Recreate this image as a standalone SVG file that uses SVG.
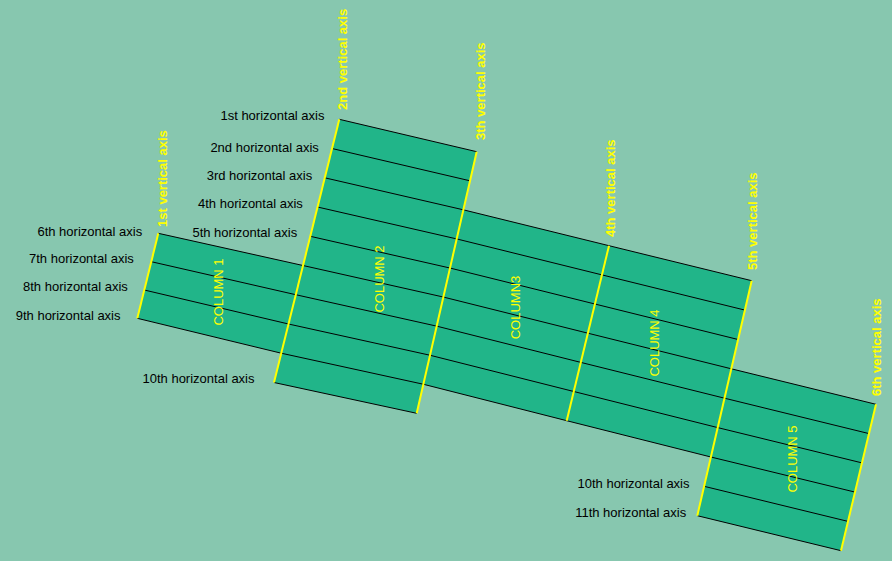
<svg xmlns="http://www.w3.org/2000/svg" width="892" height="561" viewBox="0 0 892 561">
  <style>
    .bg { fill: #87C7AF; }
    .col { fill: #21B589; stroke: none; }
    .hax { fill: none; stroke: #000000; stroke-width: 1; stroke-linejoin: round; }
    .vax { stroke: #FFFF00; stroke-width: 2; stroke-linecap: butt; }
    .hlab { font-family: "Liberation Sans", Arial, sans-serif; font-size: 13px; fill: #000000; text-anchor: end; }
    .vlab { font-family: "Liberation Sans", Arial, sans-serif; font-size: 13px; font-weight: bold; fill: #FFFF00; }
    .clab { font-family: "Liberation Sans", Arial, sans-serif; font-size: 13px; fill: #FFFF00; text-anchor: middle; }
  </style>
  <rect class="bg" x="0" y="0" width="892" height="561"/>

  <g id="column-1">
    <polygon class="col" points="158.3,233.3 303,265.5 281.2,353.2 137.3,318.3"/>
  </g>
  <g id="column-2">
    <polygon class="col" points="339.3,119.3 476.7,151.7 416.7,413.3 274,382.5"/>
  </g>
  <g id="column-3">
    <polygon class="col" points="463.3,209.8 609,245.7 566.7,420.7 423.1,384.2"/>
  </g>
  <g id="column-4">
    <polygon class="col" points="609,245.7 751.7,280.7 710.9,457 566.7,420.7"/>
  </g>
  <g id="column-5">
    <polygon class="col" points="731.3,368.8 876,404.3 841,550.7 697.3,515.7"/>
  </g>

  <g id="horizontal-axes">
    <polyline class="hax" points="339.3,119.3 476.7,151.7"/>
    <polyline class="hax" points="332,148.5 470,180.8"/>
    <polyline class="hax" points="324.8,177.8 463.3,209.8 609,245.7 751.7,280.7"/>
    <polyline class="hax" points="317.5,207 456.6,238.9 602,274.9 744.9,310.1"/>
    <polyline class="hax" points="310.3,236.3 449.9,268 594.9,304 738.1,339.5"/>
    <polyline class="hax" points="158.3,233.3 303,265.5 443.2,297 587.9,333.2 731.3,368.8 876,404.3"/>
    <polyline class="hax" points="151.3,261.7 295.7,294.7 436.5,326.1 580.8,362.4 724.5,398.2 869,433.6"/>
    <polyline class="hax" points="144.3,290 288.5,324 429.8,355.2 573.8,391.5 717.7,427.6 862,462.9"/>
    <polyline class="hax" points="137.3,318.3 281.2,353.2 423.1,384.2 566.7,420.7 710.9,457 855,492.1"/>
    <polyline class="hax" points="274,382.5 416.7,413.3"/>
    <polyline class="hax" points="704.1,486.3 848,521.4"/>
    <polyline class="hax" points="697.3,515.7 841,550.7"/>
  </g>

  <g id="vertical-axes">
    <line class="vax" x1="158.3" y1="233.3" x2="137.3" y2="318.3"/>
    <line class="vax" x1="339.3" y1="119.3" x2="274" y2="382.5"/>
    <line class="vax" x1="476.7" y1="151.7" x2="416.7" y2="413.3"/>
    <line class="vax" x1="609" y1="245.7" x2="566.7" y2="420.7"/>
    <line class="vax" x1="751.7" y1="280.7" x2="697.3" y2="515.7"/>
    <line class="vax" x1="876" y1="404.3" x2="841" y2="550.7"/>
  </g>

  <g id="horizontal-axis-labels">
    <text class="hlab" x="324.5" y="120">1st horizontal axis</text>
    <text class="hlab" x="318.8" y="151.7">2nd horizontal axis</text>
    <text class="hlab" x="312.2" y="180">3rd horizontal axis</text>
    <text class="hlab" x="302.8" y="207.7">4th horizontal axis</text>
    <text class="hlab" x="297.2" y="236.7">5th horizontal axis</text>
    <text class="hlab" x="142.2" y="236">6th horizontal axis</text>
    <text class="hlab" x="133.8" y="262.7">7th horizontal axis</text>
    <text class="hlab" x="127.8" y="291">8th horizontal axis</text>
    <text class="hlab" x="120.5" y="320">9th horizontal axis</text>
    <text class="hlab" x="254.5" y="383.3">10th horizontal axis</text>
    <text class="hlab" x="689.5" y="487.7">10th horizontal axis</text>
    <text class="hlab" x="686.2" y="516.7">11th horizontal axis</text>
  </g>

  <g id="vertical-axis-labels">
    <text class="vlab" transform="translate(167,227) rotate(-90)">1st vertical axis</text>
    <text class="vlab" transform="translate(346.5,110) rotate(-90)">2nd vertical axis</text>
    <text class="vlab" transform="translate(484.5,140) rotate(-90)">3th vertical axis</text>
    <text class="vlab" transform="translate(614.5,237) rotate(-90)">4th vertical axis</text>
    <text class="vlab" transform="translate(756.5,270) rotate(-90)">5th vertical axis</text>
    <text class="vlab" transform="translate(880.5,396) rotate(-90)">6th vertical axis</text>
  </g>

  <g id="column-labels">
    <text class="clab" transform="translate(223,292) rotate(-90)">COLUMN 1</text>
    <text class="clab" transform="translate(384,279) rotate(-90)">COLUMN 2</text>
    <text class="clab" transform="translate(520,307.5) rotate(-90)">COLUMN3</text>
    <text class="clab" transform="translate(659,343) rotate(-90)">COLUMN 4</text>
    <text class="clab" transform="translate(797,459) rotate(-90)">COLUMN 5</text>
  </g>
</svg>
